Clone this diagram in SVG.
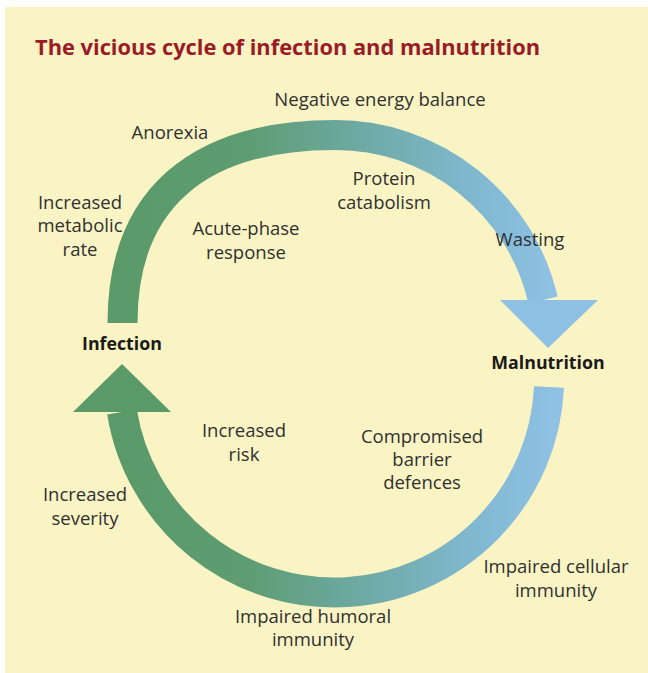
<svg xmlns="http://www.w3.org/2000/svg" width="648" height="673" viewBox="0 0 648 673">
  <defs>
    <linearGradient id="arcGrad" gradientUnits="userSpaceOnUse" x1="110" y1="0" x2="565" y2="0">
      <stop offset="0" stop-color="#5a9968"/>
      <stop offset="0.3" stop-color="#5e9d72"/>
      <stop offset="0.55" stop-color="#6ea9a4"/>
      <stop offset="0.8" stop-color="#80b8d0"/>
      <stop offset="1" stop-color="#90c2e6"/>
    </linearGradient>
    <style>
      .lbl { font-family: "Open Sans", "Noto Sans", "Liberation Sans", sans-serif; font-size: 18.5px; fill: #303030; text-anchor: middle; }
      .node { font-family: "Open Sans", "Noto Sans", "Liberation Sans", sans-serif; font-size: 17.8px; font-weight: bold; fill: #1a1a18; text-anchor: middle; }
      .title { font-family: "Open Sans", "Noto Sans", "Liberation Sans", sans-serif; font-size: 21px; font-weight: bold; fill: #9a1b26; }
      .arc { fill: none; stroke: url(#arcGrad); stroke-width: 30; stroke-linecap: butt; }
    </style>
  </defs>
  <rect x="0" y="0" width="648" height="673" fill="#ffffff"/>
  <rect x="5" y="7" width="643" height="666" fill="#faf4c5"/>
  <text class="title" x="35" y="55" textLength="505" lengthAdjust="spacingAndGlyphs">The vicious cycle of infection and malnutrition</text>

  <g id="connectors">
    <path class="arc" d="M 122.5 323 C 122.5 200 197 135 335 135 A 213 213 0 0 1 543 300"/>
    <polygon points="500,300 598,300 548,348" fill="#8ec0e3"/>
    <path class="arc" d="M 549 387 A 215 215 0 0 1 122 412"/>
    <polygon points="73,412 171,412 122,364" fill="#5a9968"/>
  </g>

  <g id="node-infection">
    <text class="node" x="122" y="350">Infection</text>
  </g>
  <g id="node-malnutrition">
    <text class="node" x="548" y="369">Malnutrition</text>
  </g>

  <g id="labels">
    <text class="lbl" x="380" y="106">Negative energy balance</text>
    <text class="lbl" x="170" y="139">Anorexia</text>
    <text class="lbl" x="384" y="185">Protein</text>
    <text class="lbl" x="384" y="209">catabolism</text>
    <text class="lbl" x="80" y="209">Increased</text>
    <text class="lbl" x="80" y="232">metabolic</text>
    <text class="lbl" x="80" y="256">rate</text>
    <text class="lbl" x="246" y="235">Acute-phase</text>
    <text class="lbl" x="246" y="259">response</text>
    <text class="lbl" x="530" y="246">Wasting</text>
    <text class="lbl" x="244" y="437">Increased</text>
    <text class="lbl" x="244" y="461">risk</text>
    <text class="lbl" x="422" y="443">Compromised</text>
    <text class="lbl" x="422" y="466">barrier</text>
    <text class="lbl" x="422" y="489">defences</text>
    <text class="lbl" x="85" y="501">Increased</text>
    <text class="lbl" x="85" y="525">severity</text>
    <text class="lbl" x="556" y="573">Impaired cellular</text>
    <text class="lbl" x="556" y="597">immunity</text>
    <text class="lbl" x="313" y="623">Impaired humoral</text>
    <text class="lbl" x="313" y="646">immunity</text>
  </g>
</svg>
